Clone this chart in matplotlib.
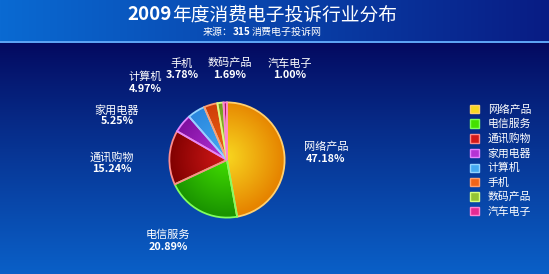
import numpy as np
import matplotlib
matplotlib.use("Agg")
import matplotlib.pyplot as plt
from matplotlib.colors import to_rgb
from matplotlib.patches import Rectangle

plt.rcParams['font.family'] = ['Noto Sans CJK SC', 'DejaVu Sans']

title_year = "2009"
title_rest = "年度消费电子投诉行业分布"
source_parts = ["来源：", "315", "消费电子投诉网"]

categories = ["网络产品", "电信服务", "通讯购物", "家用电器", "计算机", "手机", "数码产品", "汽车电子"]
shares = [47.18, 20.89, 15.24, 5.25, 4.97, 3.78, 1.69, 1.00]

inner_colors = ["#f8d820", "#44e000", "#d41818", "#b434d4", "#44aaf2", "#f06418", "#94c434", "#e42a94"]
outer_colors = ["#e68400", "#1a9400", "#7e0000", "#7c0c9c", "#2884dc", "#cc3c06", "#6c9c1c", "#ac0c6c"]
edge_colors = ["#ffd070", "#80ff60", "#ff8c8c", "#e484ff", "#94d4ff", "#ffa070", "#d8ff84", "#ff84d4"]

# label anchor points in pixels (x, y of name line)
label_pos = [(326, 147), (168, 235), (112, 157), (117, 110), (145, 77), (182, 64), (230, 63), (290, 64)]

W, H = 549, 274
fig = plt.figure(figsize=(W / 100, H / 100), dpi=100)

# background: header band + vertical body gradient
bg = fig.add_axes([0, 0, 1, 1])
bg.set_xlim(0, W)
bg.set_ylim(H, 0)
bg.axis("off")
img = np.zeros((H, W, 3))
xs = np.linspace(0, 1, W)
top_l, top_r = np.array(to_rgb("#0a6ad2")), np.array(to_rgb("#081c84"))
header = top_l[None, :] * (1 - xs[:, None]) + top_r[None, :] * xs[:, None]
body_t, body_b = np.array(to_rgb("#04085e")), np.array(to_rgb("#0a60c8"))
for j in range(H):
    if j < 41:
        img[j] = header
    else:
        t = ((j - 41) / (H - 41)) ** 0.9
        img[j] = body_t * (1 - t) + body_b * t
img[41:43] = np.array(to_rgb("#5ca2f4"))
bg.imshow(img, extent=(0, W, H, 0), aspect="auto", interpolation="bilinear")

# titles
bg.text(172, 15, title_year, color="white", fontsize=13.5, fontweight="bold", ha="right", va="center")
bg.text(172, 15, title_rest, color="white", fontsize=13.5, ha="left", va="center")
bg.text(233, 32, source_parts[0], color="white", fontsize=7.2, ha="right", va="center")
bg.text(233, 32, source_parts[1], color="white", fontsize=7.2, fontweight="bold", ha="left", va="center")
bg.text(252, 32, source_parts[2], color="white", fontsize=7.2, ha="left", va="center")

# pie
cx, cy, R = 227, 160, 72
box = 80
pax = fig.add_axes([(cx - box) / W, (H - cy - box) / H, 2 * box / W, 2 * box / H])
pax.set_xlim(-1, 1)
pax.set_ylim(-1, 1)
pax.axis("off")
r = R / box
wedges, _ = pax.pie(shares, startangle=90, counterclock=False, radius=r,
                    colors=["none"] * len(shares))
n = 300
gx, gy = np.meshgrid(np.linspace(-r, r, n), np.linspace(-r, r, n))
rr = np.clip(np.hypot(gx + 0.02, gy - 0.05) / r, 0, 1)[..., None]
for w, ci, co, ce in zip(wedges, inner_colors, outer_colors, edge_colors):
    a, b = np.array(to_rgb(ci)), np.array(to_rgb(co))
    grad = a * (1 - rr) + b * rr
    im = pax.imshow(grad, extent=(-r, r, -r, r), origin="lower", zorder=1,
                    interpolation="bilinear")
    im.set_clip_path(w)
    w.set_facecolor("none")
    w.set_edgecolor(ce)
    w.set_linewidth(1.3)
    w.set_zorder(2)

for (lx, ly), name, val in zip(label_pos, categories, shares):
    bg.text(lx, ly, name, color="white", fontsize=8, ha="center", va="center")
    bg.text(lx, ly + 11.5, f"{val:.2f}%", color="white", fontsize=7.8,
            fontweight="bold", ha="center", va="center")

# legend
handles = [Rectangle((0, 0), 1, 1, facecolor=ci, edgecolor=ce, linewidth=1.0)
           for ci, ce in zip(inner_colors, edge_colors)]
leg = fig.legend(handles, categories, loc="upper left",
                 bbox_to_anchor=(465 / W, 1 - 99 / H), frameon=False,
                 fontsize=7.8, labelcolor="white", handlelength=0.8,
                 handleheight=0.8, handletextpad=0.8, labelspacing=0.4,
                 borderpad=0)

fig.savefig("out.png", dpi=100)
